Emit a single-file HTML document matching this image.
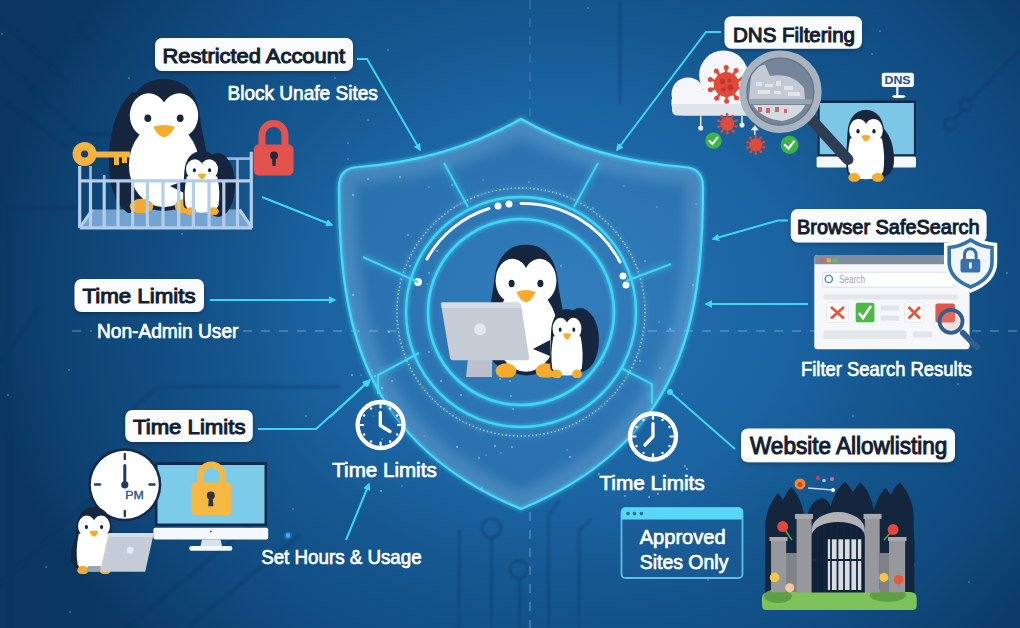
<!DOCTYPE html>
<html><head><meta charset="utf-8">
<style>
html,body{margin:0;padding:0;width:1020px;height:628px;overflow:hidden;background:#0f4478;}
svg{display:block}
text{font-family:"Liberation Sans",sans-serif;}
.lb{font-weight:normal;fill:#141e30;stroke:#141e30;stroke-width:1.05px;font-size:21px;}
.wt{fill:#ffffff;font-size:20px;stroke:#ffffff;stroke-width:0.7px;}
.cy{stroke:#3fd6f6;fill:none;}
</style></head><body>
<svg width="1020" height="628" viewBox="0 0 1020 628">
<defs>
  <radialGradient id="bg" cx="560" cy="300" r="580" gradientUnits="userSpaceOnUse" gradientTransform="translate(560 300) scale(1 0.85) translate(-560 -300)">
    <stop offset="0" stop-color="#2572b3"/>
    <stop offset="0.4" stop-color="#1b64a2"/>
    <stop offset="0.58" stop-color="#15578f"/>
    <stop offset="0.84" stop-color="#0f4a7e"/>
    <stop offset="0.95" stop-color="#0d4171"/>
    <stop offset="1" stop-color="#0b3b69"/>
  </radialGradient>
  <linearGradient id="leftdark" x1="0" y1="0" x2="1" y2="0">
    <stop offset="0" stop-color="#041830" stop-opacity="0.15"/>
    <stop offset="1" stop-color="#041830" stop-opacity="0"/>
  </linearGradient>
  <linearGradient id="shf" x1="0" y1="0" x2="0" y2="1">
    <stop offset="0" stop-color="#5aa8e0" stop-opacity="0.28"/>
    <stop offset="1" stop-color="#5aa8e0" stop-opacity="0.12"/>
  </linearGradient>
  <filter id="glow" x="-20%" y="-20%" width="140%" height="140%">
    <feGaussianBlur stdDeviation="3" result="b"/>
    <feMerge><feMergeNode in="b"/><feMergeNode in="SourceGraphic"/></feMerge>
  </filter>
  <filter id="shadow" x="-10%" y="-20%" width="120%" height="150%">
    <feDropShadow dx="0" dy="2" stdDeviation="2" flood-color="#000" flood-opacity="0.25"/>
  </filter>
  <marker id="arr" viewBox="0 0 10 10" refX="8" refY="5" markerWidth="3.8" markerHeight="3.8" orient="auto">
    <path d="M0 0 L10 5 L0 10 Z" fill="#3fd6f6"/>
  </marker>
  <!-- penguin symbol 100x120 -->
  <symbol id="peng" viewBox="0 0 100 140" preserveAspectRatio="none">
    <path d="M50 0 C74 0 88 16 90 40 C92 56 98 72 99 92 C100 118 92 134 50 138 C8 134 0 118 1 92 C2 72 8 56 10 40 C12 16 26 0 50 0 Z" fill="#16263f"/>
    <ellipse cx="33" cy="38" rx="21" ry="23" fill="#fff"/>
    <ellipse cx="67" cy="38" rx="21" ry="23" fill="#fff"/>
    <ellipse cx="50" cy="90" rx="39" ry="44" fill="#fff"/>
    <ellipse cx="32" cy="41" rx="3.8" ry="4" fill="#16263f"/>
    <ellipse cx="68" cy="41" rx="3.8" ry="4" fill="#16263f"/>
    <path d="M38 50 Q50 46 62 50 Q57 60 50 61 Q43 60 38 50 Z" fill="#f5ab2c"/>
    <ellipse cx="25" cy="133" rx="13" ry="8" fill="#f5ab2c"/>
    <ellipse cx="75" cy="133" rx="13" ry="8" fill="#f5ab2c"/>
  </symbol>
  <symbol id="peng2" viewBox="0 0 100 140" preserveAspectRatio="none">
    <path d="M50 0 C76 0 92 18 94 44 C96 70 98 100 96 120 C92 136 8 136 4 120 C2 100 4 70 6 44 C8 18 24 0 50 0 Z" fill="#16263f"/>
    <ellipse cx="32" cy="40" rx="22" ry="22" fill="#fff"/>
    <ellipse cx="68" cy="40" rx="22" ry="22" fill="#fff"/>
    <path d="M12 56 Q50 50 88 56 Q97 92 91 120 Q84 135 50 135 Q16 135 9 120 Q3 92 12 56 Z" fill="#fff"/>
    <ellipse cx="31" cy="42" rx="4" ry="4.4" fill="#16263f"/>
    <ellipse cx="69" cy="42" rx="4" ry="4.4" fill="#16263f"/>
    <path d="M39 51 Q50 47 61 51 Q56 61 50 62 Q44 61 39 51 Z" fill="#f5ab2c"/>
    <ellipse cx="22" cy="132" rx="14" ry="9" fill="#f5ab2c"/>
    <ellipse cx="78" cy="132" rx="14" ry="9" fill="#f5ab2c"/>
  </symbol>
</defs>

<!-- background -->
<rect width="1020" height="628" fill="url(#bg)"/>
<rect width="300" height="628" fill="url(#leftdark)"/>

<!-- background circuit traces -->
<filter id="soft"><feGaussianBlur stdDeviation="0.8"/></filter>
<g stroke="#0a3360" stroke-width="2.4" fill="none" opacity="0.4" filter="url(#soft)">
  <path d="M0 18 L71 85"/>
  <path d="M0 58 L80 134 L150 134"/>
  <path d="M0 98 L67 147"/>
  <circle cx="89" cy="29" r="9"/>
  <path d="M9 628 L9 209 L80 207"/>
  <path d="M0 585 L110 480"/>
  <path d="M127 628 L260 517"/>
  <path d="M187 628 L300 535"/>
  <path d="M158 387 L340 387"/><path d="M158 387 L124 416"/>
  <path d="M0 364 L40 306"/>
  <path d="M620 0 L620 105"/>
  <path d="M1020 49 L970 101"/><circle cx="966" cy="105" r="6"/><path d="M962 110 L954 119"/><circle cx="950" cy="124" r="6"/>
  <path d="M491.4 538.5 L491.4 628"/><circle cx="491.4" cy="528.5" r="9.5"/>
  <path d="M519.9 578 L519.9 628"/><circle cx="518.9" cy="569.3" r="9"/>
  <path d="M459 530 L459 628"/>
  <path d="M548.4 628 L548.4 515 L560 500"/>
  <path d="M579 628 L579 530 L591 520"/>
</g>
<!-- dashed guides -->
<g stroke="#8fb8de" stroke-width="2" stroke-dasharray="9 9" opacity="0.35" fill="none">
  <path d="M72 331 L92 331"/>
  <path d="M243 331 L396 331"/>
  <path d="M648 331 L1020 331"/>
  <path d="M530 512 L530 628"/>
</g>
<path d="M530 0 L530 118" stroke="#8fb8de" stroke-width="1.6" stroke-dasharray="9 9" opacity="0.22"/>

<!-- shield -->
<clipPath id="shclip"><path id="shp" d="M339 187 Q339 168 358 167 Q448 160 521 119 Q594 160 684 167 Q703 168 703 187 C703 325 680 443 521 509 C362 443 339 325 339 187 Z"/></clipPath>
<filter id="blur6" x="-20%" y="-20%" width="140%" height="140%"><feGaussianBlur stdDeviation="6"/></filter>
<filter id="glow2" x="-20%" y="-20%" width="140%" height="140%">
  <feGaussianBlur stdDeviation="2.2" result="b"/>
  <feMerge><feMergeNode in="b"/><feMergeNode in="SourceGraphic"/></feMerge>
</filter>
<path d="M339 187 Q339 168 358 167 Q448 160 521 119 Q594 160 684 167 Q703 168 703 187 C703 325 680 443 521 509 C362 443 339 325 339 187 Z" fill="#8cc8f5" fill-opacity="0.13"/>
<g clip-path="url(#shclip)">
  <path d="M339 187 Q339 168 358 167 Q448 160 521 119 Q594 160 684 167 Q703 168 703 187 C703 325 680 443 521 509 C362 443 339 325 339 187 Z" fill="none" stroke="#a8d8fa" stroke-opacity="0.22" stroke-width="34" filter="url(#blur6)"/>
</g>
<path d="M339 187 Q339 168 358 167 Q448 160 521 119 Q594 160 684 167 Q703 168 703 187 C703 325 680 443 521 509 C362 443 339 325 339 187 Z" fill="none" stroke="#4adcf8" stroke-width="2.2" filter="url(#glow2)"/>
<!-- sparkles -->
<g fill="#cfe8ff" opacity="0.55">
<circle cx="429" cy="352" r="0.9"/>
<circle cx="670" cy="329" r="1.1"/>
<circle cx="368" cy="179" r="0.9"/>
<circle cx="437" cy="251" r="1.1"/>
<circle cx="512" cy="447" r="0.9"/>
<circle cx="486" cy="455" r="0.7"/>
<circle cx="570" cy="457" r="1.1"/>
<circle cx="483" cy="180" r="0.7"/>
<circle cx="402" cy="486" r="0.7"/>
<circle cx="452" cy="185" r="0.9"/>
<circle cx="513" cy="409" r="0.9"/>
<circle cx="599" cy="474" r="0.9"/>
<circle cx="603" cy="362" r="0.7"/>
<circle cx="657" cy="207" r="0.7"/>
<circle cx="521" cy="259" r="1.1"/>
<circle cx="500" cy="379" r="0.9"/>
<circle cx="495" cy="446" r="1.1"/>
<circle cx="470" cy="365" r="1.1"/>
<circle cx="427" cy="284" r="0.7"/>
<circle cx="649" cy="497" r="1.1"/>
<circle cx="592" cy="402" r="0.9"/>
<circle cx="687" cy="469" r="1.1"/>
<circle cx="382" cy="388" r="1.1"/>
<circle cx="640" cy="361" r="0.9"/>
<circle cx="389" cy="332" r="1.1"/>
<circle cx="696" cy="204" r="0.7"/>
<circle cx="491" cy="224" r="0.9"/>
<circle cx="497" cy="310" r="0.7"/>
<circle cx="361" cy="375" r="0.7"/>
<circle cx="479" cy="366" r="1.1"/>
<circle cx="658" cy="494" r="1.1"/>
<circle cx="429" cy="187" r="0.7"/>
<circle cx="372" cy="370" r="0.7"/>
<circle cx="682" cy="491" r="0.9"/>
<circle cx="562" cy="226" r="0.7"/>
<circle cx="693" cy="285" r="0.9"/>
<circle cx="685" cy="466" r="0.9"/>
<circle cx="479" cy="458" r="0.9"/>
<circle cx="574" cy="369" r="1.1"/>
<circle cx="381" cy="491" r="1.1"/>
<circle cx="441" cy="381" r="1.1"/>
<circle cx="429" cy="273" r="0.9"/>
<circle cx="530" cy="353" r="0.7"/>
<circle cx="625" cy="496" r="0.9"/>
<circle cx="352" cy="375" r="1.1"/>
<circle cx="392" cy="381" r="0.9"/>
<circle cx="511" cy="396" r="0.9"/>
<circle cx="561" cy="266" r="0.9"/>
<circle cx="353" cy="195" r="1.1"/>
<circle cx="353" cy="295" r="1.1"/>
<circle cx="507" cy="368" r="0.9"/>
<circle cx="408" cy="235" r="0.9"/>
<circle cx="645" cy="261" r="0.9"/>
<circle cx="382" cy="439" r="1.1"/>
<circle cx="588" cy="218" r="1.1"/>
<circle cx="424" cy="436" r="0.7"/>
<circle cx="461" cy="395" r="1.1"/>
<circle cx="593" cy="208" r="0.9"/>
<circle cx="682" cy="394" r="0.7"/>
<circle cx="501" cy="453" r="0.7"/>
<circle cx="373" cy="416" r="0.7"/>
<circle cx="659" cy="322" r="0.7"/>
<circle cx="624" cy="186" r="0.7"/>
<circle cx="457" cy="447" r="1.1"/>
<circle cx="410" cy="266" r="1.1"/>
<circle cx="375" cy="376" r="1.1"/>
<circle cx="391" cy="270" r="0.9"/>
<circle cx="510" cy="381" r="0.9"/>
<circle cx="494" cy="308" r="0.9"/>
<circle cx="400" cy="177" r="1.1"/>
<circle cx="1007" cy="273" r="0.8"/>
<circle cx="969" cy="582" r="0.8"/>
<circle cx="227" cy="468" r="0.8"/>
<circle cx="853" cy="416" r="0.8"/>
<circle cx="529" cy="182" r="0.8"/>
<circle cx="348" cy="143" r="0.8"/>
<circle cx="69" cy="370" r="0.8"/>
<circle cx="293" cy="509" r="0.8"/>
<circle cx="46" cy="567" r="0.8"/>
<circle cx="708" cy="580" r="0.8"/>
<circle cx="914" cy="565" r="0.8"/>
<circle cx="588" cy="8" r="0.8"/>
<circle cx="760" cy="108" r="0.8"/>
<circle cx="306" cy="416" r="0.8"/>
<circle cx="535" cy="260" r="0.8"/>
<circle cx="958" cy="384" r="0.8"/>
<circle cx="348" cy="159" r="0.8"/>
<circle cx="879" cy="300" r="0.8"/>
<circle cx="798" cy="221" r="0.8"/>
<circle cx="201" cy="336" r="0.8"/>
<circle cx="833" cy="108" r="0.8"/>
<circle cx="808" cy="579" r="0.8"/>
<circle cx="822" cy="517" r="0.8"/>
<circle cx="8" cy="395" r="0.8"/>
<circle cx="880" cy="31" r="0.8"/>
<circle cx="277" cy="169" r="0.8"/>
<circle cx="538" cy="266" r="0.8"/>
<circle cx="482" cy="488" r="0.8"/>
<circle cx="2" cy="34" r="0.8"/>
<circle cx="129" cy="78" r="0.8"/>
<circle cx="70" cy="612" r="0.8"/>
<circle cx="872" cy="54" r="0.8"/>
<circle cx="512" cy="198" r="0.8"/>
<circle cx="321" cy="221" r="0.8"/>
<circle cx="660" cy="368" r="0.8"/>
<circle cx="368" cy="120" r="0.8"/>
<circle cx="335" cy="78" r="0.8"/>
<circle cx="567" cy="450" r="0.8"/>
<circle cx="388" cy="50" r="0.8"/>
<circle cx="182" cy="234" r="0.8"/>
</g>

<!-- rings -->
<g filter="url(#glow2)">
  <circle cx="521" cy="312" r="93" class="cy" stroke-width="2.6"/>
  <circle cx="521" cy="312" r="115" class="cy" stroke-width="2.4"/>
  <circle cx="521" cy="312" r="124" fill="none" stroke="#a8e8fb" stroke-width="1.4" stroke-dasharray="1.2 2.6"/>
</g>
<!-- white arcs and dots -->
<g stroke="#f2f6fa" stroke-width="3" fill="none" stroke-linecap="round">
  <path d="M427 259 A108 108 0 0 1 489 208.5"/>
  <path d="M521 203.5 A109 109 0 0 1 620 262"/>
</g>
<g fill="#ffffff">
  <circle cx="498" cy="206" r="3.5"/><circle cx="509" cy="204" r="3.5"/>
  <circle cx="623" cy="276" r="3.5"/><circle cx="626" cy="285" r="3.5"/>
  <circle cx="418" cy="282" r="4"/>
</g>
<!-- spokes -->
<g class="cy" stroke-width="2" filter="url(#glow)">
  <path d="M444 163 L468 207"/>
  <path d="M598 163 L574 207"/>
  <path d="M363 257 L418 282"/>
  <path d="M671 264 L626 281"/>
  <path d="M419 353 L378 375 L378 394"/>
  <path d="M621 368 L652 384 L652 404"/>
</g>

<!-- connectors -->
<g class="cy" stroke-width="2">
  <path d="M357 59 L367 59 L420 150" marker-end="url(#arr)"/>
  <path d="M262 197 L332 225" marker-end="url(#arr)"/>
  <path d="M210 300 L335 300" marker-end="url(#arr)"/>
  <path d="M258 429 L316 429 L369 381" marker-end="url(#arr)"/>
  <path d="M346 540 L369 484" marker-end="url(#arr)"/>
  <path d="M330 417 L370 380" marker-end="url(#arr)"/>
  <path d="M721 32 L706 32 L617 150" marker-end="url(#arr)"/>
  <path d="M788 220.5 L778 220.5 L713 239" marker-end="url(#arr)"/>
  <path d="M808 304 L706 304" marker-end="url(#arr)"/>
  <path d="M735 449 L670 392"/>
</g>
<g fill="#3fd6f6">
  <circle cx="670" cy="392" r="3"/>
</g>

<!-- labels -->
<g filter="url(#shadow)" fill="#f9fbfd">
  <rect x="155" y="38" width="198" height="33" rx="7"/>
  <rect x="74.5" y="279" width="129.5" height="33" rx="7"/>
  <rect x="125.3" y="410" width="127.5" height="32" rx="7"/>
  <rect x="724.5" y="16.3" width="137.5" height="32.4" rx="7"/>
  <rect x="790.8" y="209" width="195.8" height="33.5" rx="7"/>
  <rect x="741" y="428.5" width="214" height="33.7" rx="7"/>
</g>
<text class="lb" x="162.4" y="63.2" textLength="182.6" lengthAdjust="spacingAndGlyphs">Restricted Account</text>
<text class="lb" x="82.4" y="302.8" textLength="113.2" lengthAdjust="spacingAndGlyphs">Time Limits</text>
<text class="lb" x="133" y="433.6" textLength="112.5" lengthAdjust="spacingAndGlyphs">Time Limits</text>
<text class="lb" x="733" y="41.6" textLength="122" lengthAdjust="spacingAndGlyphs" style="font-size:20.5px">DNS Filtering</text>
<text class="lb" x="797" y="233.6" textLength="182.6" lengthAdjust="spacingAndGlyphs">Browser SafeSearch</text>
<text class="lb" x="750" y="454.4" textLength="197.4" lengthAdjust="spacingAndGlyphs" style="font-size:23px">Website Allowlisting</text>

<!-- white texts -->
<text class="wt" x="227.5" y="100" textLength="150.3" lengthAdjust="spacingAndGlyphs">Block Unafe Sites</text>
<text class="wt" x="97" y="337.7" textLength="141.4" lengthAdjust="spacingAndGlyphs">Non-Admin User</text>
<text class="wt" x="332.3" y="476.8" textLength="104.4" lengthAdjust="spacingAndGlyphs">Time Limits</text>
<text class="wt" x="261.2" y="564.4" textLength="160.4" lengthAdjust="spacingAndGlyphs">Set Hours &amp; Usage</text>
<text class="wt" x="801" y="376" textLength="171" lengthAdjust="spacingAndGlyphs">Filter Search Results</text>
<text class="wt" x="599.4" y="489.5" textLength="105.3" lengthAdjust="spacingAndGlyphs">Time Limits</text>

<!-- center clocks -->
<g><circle cx="380.6" cy="425" r="23" fill="#1a5a96" fill-opacity="0.35" stroke="#fff" stroke-width="4.3"/><path d="M380.6 407.5 L380.6 405.0" stroke="#fff" stroke-width="2.2" stroke-linecap="round"/><circle cx="390.1" cy="408.5" r="1.2" fill="#fff"/><circle cx="397.1" cy="415.5" r="1.2" fill="#fff"/><path d="M398.1 425.0 L400.6 425.0" stroke="#fff" stroke-width="2.2" stroke-linecap="round"/><circle cx="397.1" cy="434.5" r="1.2" fill="#fff"/><circle cx="390.1" cy="441.5" r="1.2" fill="#fff"/><path d="M380.6 442.5 L380.6 445.0" stroke="#fff" stroke-width="2.2" stroke-linecap="round"/><circle cx="371.1" cy="441.5" r="1.2" fill="#fff"/><circle cx="364.1" cy="434.5" r="1.2" fill="#fff"/><path d="M363.1 425.0 L360.6 425.0" stroke="#fff" stroke-width="2.2" stroke-linecap="round"/><circle cx="364.1" cy="415.5" r="1.2" fill="#fff"/><circle cx="371.1" cy="408.5" r="1.2" fill="#fff"/><path d="M380.3 412.5 L380.3 425.5 L390 431.5" stroke="#fff" stroke-width="3.3" fill="none" stroke-linecap="round" stroke-linejoin="round"/></g>
<g><circle cx="653" cy="436.5" r="23" fill="#1a5a96" fill-opacity="0.35" stroke="#fff" stroke-width="4.3"/><path d="M653.0 419.0 L653.0 416.5" stroke="#fff" stroke-width="2.2" stroke-linecap="round"/><circle cx="662.5" cy="420.0" r="1.2" fill="#fff"/><circle cx="669.5" cy="427.0" r="1.2" fill="#fff"/><path d="M670.5 436.5 L673.0 436.5" stroke="#fff" stroke-width="2.2" stroke-linecap="round"/><circle cx="669.5" cy="446.0" r="1.2" fill="#fff"/><circle cx="662.5" cy="453.0" r="1.2" fill="#fff"/><path d="M653.0 454.0 L653.0 456.5" stroke="#fff" stroke-width="2.2" stroke-linecap="round"/><circle cx="643.5" cy="453.0" r="1.2" fill="#fff"/><circle cx="636.5" cy="446.0" r="1.2" fill="#fff"/><path d="M635.5 436.5 L633.0 436.5" stroke="#fff" stroke-width="2.2" stroke-linecap="round"/><circle cx="636.5" cy="427.0" r="1.2" fill="#fff"/><circle cx="643.5" cy="420.0" r="1.2" fill="#fff"/><path d="M653 423.5 L653 436.5 L645 445" stroke="#fff" stroke-width="3.3" fill="none" stroke-linecap="round" stroke-linejoin="round"/></g>

<!-- TOP-LEFT: crib scene -->
<g id="crib">
  <!-- back bars of crib -->
  <g stroke="#9fbde3" stroke-width="2.6">
    <path d="M222 158.6 L252 158.6"/>
    <path d="M237.5 158 L237.5 181"/>
    <path d="M223.8 158 L223.8 181"/>
    <path d="M90.5 166 L90.5 181"/>
    <path d="M104.2 175 L104.2 181"/>
  </g>
  <!-- crib floor -->
  <path d="M92.5 209.6 L239.5 209.6 L252 227.8 L79.7 227.8 Z" fill="#86b3de" opacity="0.85"/>
  <!-- big penguin -->
  <ellipse cx="218" cy="185" rx="17" ry="32" fill="#16263f"/>
  <path d="M132 92 Q111 112 109 155 Q108 200 128 213 L150 213 L150 95 Z" fill="#16263f"/>
  <use href="#peng" x="119" y="79" width="90" height="134"/>
  <!-- key -->
  <g fill="#f2b43e">
    <circle cx="84.6" cy="154" r="12"/>
    <rect x="94" y="151.5" width="36" height="6"/>
    <rect x="114" y="155" width="5" height="10"/>
    <rect x="122" y="155" width="5" height="8"/>
  </g>
  <circle cx="84.6" cy="154" r="3.6" fill="#16406e"/>
  <!-- little penguin -->
  <path d="M170 186 L186 180 L186 194 Z" fill="#16263f"/>
  <use href="#peng2" x="182" y="151" width="40" height="64"/>
  <!-- front bars -->
  <g stroke="#b3cdea" stroke-width="3.2">
    <path d="M79.7 180.8 L252 180.8"/>
    <path d="M79.7 227.8 L252 227.8"/>
    <path d="M79.7 166 L79.7 228"/>
    <path d="M251.3 151.8 L251.3 228"/>
    <path d="M90.5 181 L90.5 228"/><path d="M104.2 181 L104.2 228"/><path d="M118 181 L118 228"/>
    <path d="M132.6 181 L132.6 228"/><path d="M147.4 181 L147.4 228"/><path d="M163 181 L163 228"/>
    <path d="M178.7 181 L178.7 228"/><path d="M193.4 181 L193.4 228"/><path d="M209 181 L209 228"/>
    <path d="M223.8 181 L223.8 228"/><path d="M237.5 181 L237.5 228"/>
    <path d="M79.7 227.8 L92.5 209.6"/><path d="M252 227.8 L239.5 209.6"/>
  </g>
  <!-- red lock -->
  <path d="M262 146 L262 135 A11.5 11.5 0 0 1 285 135 L285 146" fill="none" stroke="#e3534e" stroke-width="7"/>
  <rect x="253.7" y="144.5" width="39.8" height="31" rx="5" fill="#e3534e"/>
  <circle cx="274" cy="155.5" r="4" fill="#27283a"/>
  <path d="M272 157 L276 157 L275.5 166 L272.5 166 Z" fill="#27283a"/>
</g>

<!-- BOTTOM-LEFT: clock / monitor / penguin -->
<g id="bl">
  <!-- monitor -->
  <rect x="155" y="462" width="112" height="64" fill="#13294a"/>
  <rect x="157.5" y="465" width="107" height="58.5" fill="#7ccbe8"/>
  <rect x="153.4" y="527.8" width="114.8" height="11.8" rx="2" fill="#f4f7fb"/>
  <circle cx="210.8" cy="531.5" r="0.9" fill="#555"/>
  <path d="M202 539.6 L220.5 539.6 L222 546 L200.5 546 Z" fill="#d9e1ea"/>
  <rect x="189.3" y="546" width="43" height="4.8" rx="2" fill="#f4f7fb"/>
  <!-- gold lock -->
  <path d="M200.2 483 L200.2 475 A11.2 11.2 0 0 1 222.5 475 L222.5 483" fill="none" stroke="#f5b943" stroke-width="6.5"/>
  <rect x="191.5" y="482.6" width="39.7" height="32.3" rx="4" fill="#f5b943"/>
  <circle cx="210.8" cy="495.5" r="4" fill="#2d3340"/>
  <path d="M209 497 L212.6 497 L213.4 506.3 L208.2 506.3 Z" fill="#2d3340"/>
  <!-- clock -->
  <circle cx="124.8" cy="484.8" r="36.5" fill="#15294a"/>
  <circle cx="124.8" cy="484.8" r="34" fill="#ffffff"/>
  <g stroke="#20406a" stroke-width="2.4" stroke-linecap="round">
    <path d="M124.8 454 L124.8 459"/><path d="M124.8 511 L124.8 516"/>
    <path d="M95 484.5 L100 484.5"/><path d="M149.5 484.5 L154.5 484.5"/>
  </g>
  <path d="M124.8 465.5 L124.8 484.8" stroke="#1d3a60" stroke-width="3" stroke-linecap="round"/>
  <circle cx="124.8" cy="484.8" r="3.6" fill="#1d3a60"/>
  <text x="125.3" y="498.5" font-size="11.5" fill="#2a5a8c" stroke="#2a5a8c" stroke-width="0.4" textLength="18.5" lengthAdjust="spacingAndGlyphs">PM</text>
  <!-- penguin with laptop -->
  <path d="M84 528 Q70 540 71 560 Q74 570 86 570 L90 530 Z" fill="#16263f"/><use href="#peng2" x="74" y="507" width="40" height="67"/>
  <path d="M108.7 533 L153.8 533 L145.2 571.8 L100 571.8 Z" fill="#c4ccd7"/>
  <path d="M108.7 533 L153.8 533 L153 537 L107.8 537 Z" fill="#d6dce4"/>
  <circle cx="130.2" cy="550.3" r="3.5" fill="#e6eaf0"/>
  <path d="M88 566 L101 566 L100 571.8 L86 571.8 Z" fill="#9aa4b2"/>
</g>

<!-- CENTER: penguins + monitor -->
<g id="ctr">
  <ellipse cx="580" cy="340" rx="19" ry="32" fill="#16263f"/>
  <use href="#peng" x="486" y="244.5" width="80" height="133"/>
  <!-- monitor -->
  <path d="M469.4 345 L492 345 L492 377 L466 377 Z" fill="#b9c0cb"/>
  <path d="M441 304 Q440 302.5 442 302.5 L518 302.5 Q520.5 302.5 521 305 L529 357 Q529.5 360.3 526.5 360.3 L453 360.3 Q450.5 360.3 450 358 Z" fill="#c6ccd6"/>
  <path d="M442 302.5 L518 302.5 Q520.5 302.5 521 305 L521.5 308 L441.5 308 Z" fill="#d7dce4"/>
  <circle cx="480" cy="329.3" r="6" fill="#e4e8ee"/>
  <!-- small penguin -->
  <path d="M533 349 L550 340 L550 356 Z" fill="#16263f"/>
  <use href="#peng2" x="549" y="309" width="36" height="69"/>
</g>

<!-- TOP-RIGHT: DNS filtering -->
<g id="dns">
  <!-- cloud -->
  <g fill="#f4f6f9">
    <circle cx="723.6" cy="75" r="24.5"/>
    <circle cx="688" cy="94" r="16.5"/>
    <circle cx="748" cy="92" r="18"/>
    <rect x="671.4" y="90" width="95" height="25.5" rx="12"/>
  </g>
  <path d="M672 104 L766 104 L766 110 Q766 115.5 760 115.5 L678 115.5 Q672 115.5 672 110 Z" fill="#dfe4ea"/>
  <g fill="#e04a3a" stroke="#e04a3a"><path d="M737.1 87.7 L742.5 89.4" stroke-width="2.5" fill="none"/><circle cx="742.5" cy="89.4" r="2.5" stroke="none"/><path d="M733.1 93.4 L736.5 97.9" stroke-width="2.5" fill="none"/><circle cx="736.5" cy="97.9" r="2.5" stroke="none"/><path d="M726.6 95.6 L726.6 101.3" stroke-width="2.5" fill="none"/><circle cx="726.6" cy="101.3" r="2.5" stroke="none"/><path d="M719.9 93.6 L716.7 98.2" stroke-width="2.5" fill="none"/><circle cx="716.7" cy="98.2" r="2.5" stroke="none"/><path d="M715.8 88.0 L710.4 89.8" stroke-width="2.5" fill="none"/><circle cx="710.4" cy="89.8" r="2.5" stroke="none"/><path d="M715.7 81.1 L710.3 79.4" stroke-width="2.5" fill="none"/><circle cx="710.3" cy="79.4" r="2.5" stroke="none"/><path d="M719.7 75.4 L716.3 70.9" stroke-width="2.5" fill="none"/><circle cx="716.3" cy="70.9" r="2.5" stroke="none"/><path d="M726.2 73.2 L726.2 67.5" stroke-width="2.5" fill="none"/><circle cx="726.2" cy="67.5" r="2.5" stroke="none"/><path d="M732.9 75.2 L736.1 70.6" stroke-width="2.5" fill="none"/><circle cx="736.1" cy="70.6" r="2.5" stroke="none"/><path d="M737.0 80.8 L742.4 79.0" stroke-width="2.5" fill="none"/><circle cx="742.4" cy="79.0" r="2.5" stroke="none"/><circle cx="726.4" cy="84.4" r="12.5" stroke="none"/></g><circle cx="722.4" cy="81.4" r="2.6" fill="#b8302a" opacity="0.8"/><circle cx="729.4" cy="80.4" r="2.2" fill="#b8302a" opacity="0.8"/><circle cx="730.4" cy="87.4" r="2.8" fill="#b8302a" opacity="0.8"/><circle cx="723.4" cy="89.4" r="2.2" fill="#b8302a" opacity="0.8"/>
  <!-- arrows under cloud -->
  <g stroke="#e8eef5" stroke-width="1.5" fill="#e8eef5">
    <path d="M700.7 116 L700.7 127"/><circle cx="700.7" cy="128" r="1.8"/>
    <path d="M742 116 L742 124"/><circle cx="742" cy="125" r="1.8"/>
    <path d="M754.8 134.8 L754.8 127.5"/><path d="M752.3 129.5 L754.8 126.5 L757.3 129.5 Z"/>
  </g>
  <g fill="#e04a3a" stroke="#e04a3a"><path d="M733.3 125.7 L736.3 126.6" stroke-width="1.4" fill="none"/><circle cx="736.3" cy="126.6" r="1.4" stroke="none"/><path d="M731.1 128.8 L733.0 131.4" stroke-width="1.4" fill="none"/><circle cx="733.0" cy="131.4" r="1.4" stroke="none"/><path d="M727.4 130.1 L727.4 133.2" stroke-width="1.4" fill="none"/><circle cx="727.4" cy="133.2" r="1.4" stroke="none"/><path d="M723.7 128.9 L721.9 131.5" stroke-width="1.4" fill="none"/><circle cx="721.9" cy="131.5" r="1.4" stroke="none"/><path d="M721.3 125.8 L718.4 126.8" stroke-width="1.4" fill="none"/><circle cx="718.4" cy="126.8" r="1.4" stroke="none"/><path d="M721.3 121.9 L718.3 121.0" stroke-width="1.4" fill="none"/><circle cx="718.3" cy="121.0" r="1.4" stroke="none"/><path d="M723.5 118.8 L721.6 116.2" stroke-width="1.4" fill="none"/><circle cx="721.6" cy="116.2" r="1.4" stroke="none"/><path d="M727.2 117.5 L727.2 114.4" stroke-width="1.4" fill="none"/><circle cx="727.2" cy="114.4" r="1.4" stroke="none"/><path d="M730.9 118.7 L732.7 116.1" stroke-width="1.4" fill="none"/><circle cx="732.7" cy="116.1" r="1.4" stroke="none"/><path d="M733.3 121.8 L736.2 120.8" stroke-width="1.4" fill="none"/><circle cx="736.2" cy="120.8" r="1.4" stroke="none"/><circle cx="727.3" cy="123.8" r="7" stroke="none"/></g>
  <g fill="#e04a3a" stroke="#e04a3a"><path d="M761.3 146.5 L764.1 147.4" stroke-width="1.3" fill="none"/><circle cx="764.1" cy="147.4" r="1.3" stroke="none"/><path d="M759.2 149.5 L761.0 151.8" stroke-width="1.3" fill="none"/><circle cx="761.0" cy="151.8" r="1.3" stroke="none"/><path d="M755.8 150.6 L755.8 153.6" stroke-width="1.3" fill="none"/><circle cx="755.8" cy="153.6" r="1.3" stroke="none"/><path d="M752.3 149.6 L750.6 152.0" stroke-width="1.3" fill="none"/><circle cx="750.6" cy="152.0" r="1.3" stroke="none"/><path d="M750.2 146.7 L747.4 147.6" stroke-width="1.3" fill="none"/><circle cx="747.4" cy="147.6" r="1.3" stroke="none"/><path d="M750.1 143.1 L747.3 142.2" stroke-width="1.3" fill="none"/><circle cx="747.3" cy="142.2" r="1.3" stroke="none"/><path d="M752.2 140.1 L750.4 137.8" stroke-width="1.3" fill="none"/><circle cx="750.4" cy="137.8" r="1.3" stroke="none"/><path d="M755.6 139.0 L755.6 136.0" stroke-width="1.3" fill="none"/><circle cx="755.6" cy="136.0" r="1.3" stroke="none"/><path d="M759.1 140.0 L760.8 137.6" stroke-width="1.3" fill="none"/><circle cx="760.8" cy="137.6" r="1.3" stroke="none"/><path d="M761.2 142.9 L764.0 142.0" stroke-width="1.3" fill="none"/><circle cx="764.0" cy="142.0" r="1.3" stroke="none"/><circle cx="755.7" cy="144.8" r="6.5" stroke="none"/></g>
  <circle cx="713.5" cy="140.6" r="8.2" fill="#3cb44b"/>
  <path d="M709.5 141 L712.5 144 L717.5 137.5" stroke="#fff" stroke-width="2" fill="none" stroke-linecap="round"/>
  <circle cx="789.6" cy="144.8" r="9" fill="#3cb44b"/>
  <path d="M785 145 L788.5 148.5 L794 141.5" stroke="#fff" stroke-width="2.2" fill="none" stroke-linecap="round"/>
  <!-- monitor -->
  <rect x="817.6" y="100.4" width="98.4" height="57" fill="#13294a"/>
  <rect x="819.7" y="103" width="94.2" height="51.2" fill="#7cc7e6"/>
  <rect x="816.6" y="156.5" width="99.4" height="11" rx="1.5" fill="#f4f7fb"/>
  <!-- DNS sign -->
  <rect x="881.8" y="72.8" width="32.1" height="14.2" rx="2" fill="#f6f8fb"/>
  <text x="884.5" y="84.2" font-size="11" font-weight="bold" fill="#1f4f86" textLength="26" lengthAdjust="spacingAndGlyphs">DNS</text>
  <path d="M897.3 87 L897.3 95.5" stroke="#f6f8fb" stroke-width="2.2"/>
  <ellipse cx="898.8" cy="96.5" rx="6.8" ry="1.6" fill="#f6f8fb"/>
  <!-- penguin -->
  <path d="M872 120 Q894 130 894 160 Q894 176 880 178 L860 178 Z" fill="#16263f"/>
  <use href="#peng2" x="845" y="109.7" width="42" height="72"/>
  <!-- magnifier -->
  <path d="M810 118 L848 159.5" stroke="#2f3d52" stroke-width="11" stroke-linecap="round"/>
  <circle cx="780.4" cy="91.7" r="37.5" fill="#75859a"/>
  <path d="M749 99.5 L751 76 Q755 66 765 64.7 L770 76 Q792 72 804 88 L805 99.5 Z" fill="#c3cad3"/>
  <g fill="#e8ecf0" opacity="0.8">
    <rect x="756" y="82" width="6" height="4"/><rect x="765" y="84" width="8" height="3"/><rect x="776" y="81" width="5" height="5"/>
    <rect x="784" y="86" width="9" height="4"/><rect x="758" y="90" width="12" height="4"/><rect x="774" y="91" width="7" height="3"/><rect x="788" y="92" width="12" height="4"/>
  </g>
  <rect x="746" y="99.5" width="66" height="4.5" fill="#9aa5b2"/>
  <path d="M753 105 L805 105 Q800 117 782 121 Q762 119 753 105 Z" fill="#d5dae0"/>
  <g fill="#c8545a" opacity="0.85"><rect x="758" y="107" width="4" height="5"/><rect x="766" y="108" width="4" height="5"/><rect x="775" y="107" width="4" height="5"/><rect x="784" y="109" width="3" height="4"/></g>
  <circle cx="780.4" cy="91.7" r="37.5" fill="none" stroke="#a9b4c1" stroke-width="7.5"/>
  <circle cx="780.4" cy="91.7" r="33.5" fill="none" stroke="#66758a" stroke-width="1.2"/>
</g>

<!-- RIGHT: Browser SafeSearch -->
<g id="browser">
  <rect x="814.3" y="255" width="155.3" height="94.2" rx="3" fill="#f5f7fa"/>
  <path d="M814.3 258 Q814.3 255 817.3 255 L966.6 255 Q969.6 255 969.6 258 L969.6 264.3 L814.3 264.3 Z" fill="#7f8fa0"/>
  <circle cx="822.6" cy="260.2" r="2.2" fill="#e8604c"/>
  <circle cx="828.8" cy="260.2" r="2.2" fill="#f0a840"/>
  <circle cx="835" cy="260.2" r="2.2" fill="#62c45a"/>
  <rect x="822.6" y="272.2" width="132.4" height="14.9" rx="3" fill="#ffffff" stroke="#d9dee5" stroke-width="1"/>
  <circle cx="828.8" cy="279" r="3.6" fill="none" stroke="#3b8ad0" stroke-width="1.4"/>
  <text x="839" y="283.3" font-size="10" fill="#9aa3ae" textLength="26" lengthAdjust="spacingAndGlyphs">Search</text>
  <rect x="823.6" y="294.4" width="134.6" height="5.1" rx="2" fill="#e3e6ea"/>
  <rect x="826.7" y="302.6" width="21.8" height="20" rx="2" fill="#fbfbfc" stroke="#e3e6ea" stroke-width="0.8"/>
  <path d="M831 307 L844 318.5 M844 307 L831 318.5" stroke="#e05a3a" stroke-width="2.8"/>
  <rect x="855.7" y="302.8" width="18.7" height="19.5" rx="2" fill="#4cb848"/>
  <path d="M859 313 L863 318 L871 306" stroke="#fff" stroke-width="2.6" fill="none"/>
  <rect x="880.6" y="305.4" width="18.6" height="5" rx="1" fill="#e1e4e8"/>
  <rect x="880.6" y="315.8" width="18.6" height="5" rx="1" fill="#e1e4e8"/>
  <rect x="904.4" y="302.6" width="19.6" height="20" rx="2" fill="#fbfbfc" stroke="#e3e6ea" stroke-width="0.8"/>
  <path d="M908.5 307 L920 318.5 M920 307 L908.5 318.5" stroke="#e05a3a" stroke-width="2.8"/>
  <rect x="935.4" y="303.5" width="19.6" height="19" rx="2" fill="#e0584a"/>
  <rect x="823.6" y="330.6" width="82.8" height="8.3" rx="2" fill="#e3e6ea"/>
  <rect x="912.7" y="331.5" width="19.6" height="6" rx="2" fill="#e3e6ea"/>
  <!-- magnifier -->
  <path d="M963 333 L976.8 347" stroke="#2f5f8f" stroke-width="6" stroke-linecap="round"/>
  <circle cx="951" cy="321.3" r="11.5" fill="#f0a090" fill-opacity="0.25" stroke="#2f5f8f" stroke-width="3.8"/>
  <!-- shield badge -->
  <path d="M970.6 236 Q983 244 995.5 244.5 L995.5 262 Q995.5 281 970.6 291 Q945.7 281 945.7 262 L945.7 244.5 Q958 244 970.6 236 Z" fill="#f2f6fa" stroke="#ffffff" stroke-width="3.5"/>
  <path d="M970.6 240 Q981.5 247 992 247.5 L992 262 Q992 278.5 970.6 287 Q949.2 278.5 949.2 262 L949.2 247.5 Q959.7 247 970.6 240 Z" fill="#f2f6fa" stroke="#3372aa" stroke-width="3.6"/>
  <path d="M964.5 259.5 L964.5 254.5 A5.8 5.8 0 0 1 976.1 254.5 L976.1 259.5" fill="none" stroke="#3372aa" stroke-width="3"/>
  <rect x="960.5" y="259" width="19.8" height="13.6" rx="2" fill="#3372aa"/>
  <rect x="969" y="262.5" width="2.8" height="6" fill="#f2f6fa"/>
</g>
<!-- BOTTOM-RIGHT: gate -->
<g id="gate">
  <g id="trees">
<path d="M766 600 L766 540 Q766 522 776 515 L904 515 Q914.5 522 914.5 545 L914.5 600 Z" fill="#14263e"/>
<path d="M778.0 493.5 C782.5 497.5 791.0 511.5 791.0 527.5 L791.0 600 L765.0 600 L765.0 527.5 C765.0 511.5 773.5 497.5 778.0 493.5 Z" fill="#14263e"/>
<path d="M791.4 487.0 C795.9 491.0 804.4 505.0 804.4 521.0 L804.4 600 L778.4 600 L778.4 521.0 C778.4 505.0 786.9 491.0 791.4 487.0 Z" fill="#14263e"/>
<path d="M844.7 481.8 C850.0 485.8 859.7 499.8 859.7 515.8 L859.7 600 L829.7 600 L829.7 515.8 C829.7 499.8 839.5 485.8 844.7 481.8 Z" fill="#14263e"/>
<path d="M860.4 482.5 C865.3 486.5 874.4 500.5 874.4 516.5 L874.4 600 L846.4 600 L846.4 516.5 C846.4 500.5 855.5 486.5 860.4 482.5 Z" fill="#14263e"/>
<path d="M885.5 488.0 C890.0 492.0 898.5 506.0 898.5 522.0 L898.5 600 L872.5 600 L872.5 522.0 C872.5 506.0 881.0 492.0 885.5 488.0 Z" fill="#14263e"/>
<path d="M899.6 482.5 C904.5 486.5 913.6 500.5 913.6 516.5 L913.6 600 L885.6 600 L885.6 516.5 C885.6 500.5 894.7 486.5 899.6 482.5 Z" fill="#14263e"/>
<path d="M806 520 Q810 500 822 498 Q832 500 834 520 Z" fill="#14263e"/>
</g>
  <!-- grass -->
  <path d="M762 598 Q762 592 770 592 L910 592 Q916.7 592 916.7 598 L916.7 606 Q916.7 610 912 610 L766 610 Q762 610 762 606 Z" fill="#7dc25a"/>
  <ellipse cx="778" cy="596" rx="14" ry="7" fill="#5e9f45"/>
  <ellipse cx="888" cy="595" rx="18" ry="7" fill="#5e9f45"/>
  <!-- walls -->
  <rect x="786" y="553" width="11" height="39" fill="#808286"/>
  <rect x="879.7" y="553" width="10" height="39" fill="#808286"/>
  <rect x="771" y="539.3" width="15.2" height="53" fill="#97989b"/>
  <rect x="769.5" y="537" width="18" height="4" fill="#a8a9ac"/>
  <rect x="889" y="539.3" width="16.2" height="53" fill="#97989b"/>
  <rect x="888" y="537" width="18.5" height="4" fill="#a8a9ac"/>
  <!-- gate interior -->
  <path d="M811.6 592.4 L811.6 535 A26.6 20 0 0 1 864.8 535 L864.8 592.4 Z" fill="#0f2138"/>
  <rect x="827.8" y="539.3" width="33.5" height="50.7" fill="#d9dde2"/>
  <g stroke="#14263e" stroke-width="1.8">
    <path d="M818 528 L818 592"/><path d="M824.5 526 L824.5 592"/><path d="M831 524 L831 592"/>
    <path d="M837.5 523 L837.5 592"/><path d="M844 523 L844 592"/><path d="M850.5 524 L850.5 592"/>
    <path d="M857 526 L857 592"/>
    <path d="M812 560 L865 560"/>
  </g>
  <!-- pillars + arch -->
  <path d="M796.6 592.4 L796.6 517 L811.6 517 L811.6 535 A26.6 20 0 0 1 864.8 535 L864.8 517 L879.7 517 L879.7 592.4 L864.8 592.4 L864.8 536 A26.6 22 0 0 0 811.6 536 L811.6 592.4 Z" fill="#97989b"/>
  <path d="M811.6 530 A26.6 18 0 0 1 864.8 530 L864.8 536 A26.6 14 0 0 0 811.6 536 Z" fill="#b0b2b5"/>
  <rect x="795" y="513.9" width="18" height="5" fill="#a8a9ac"/>
  <rect x="863.5" y="513.9" width="18" height="5" fill="#a8a9ac"/>
  <!-- flowers -->
  <path d="M783 527 L792 540" stroke="#5ea548" stroke-width="1.5"/>
  <path d="M893 530 L884 540" stroke="#5ea548" stroke-width="1.5"/>
  <circle cx="782.7" cy="526.6" r="5.5" fill="#e2483a"/>
  <circle cx="893.1" cy="529.6" r="5.5" fill="#e2483a"/>
  <circle cx="774.6" cy="577.4" r="4.8" fill="#f2c84a"/>
  <circle cx="789.7" cy="587.8" r="4.6" fill="#f4c7a0"/>
  <circle cx="883.9" cy="577.4" r="4.5" fill="#f2c84a"/>
  <circle cx="898.7" cy="579.7" r="4.8" fill="#e8583a"/>
  <circle cx="800" cy="483.9" r="5.5" fill="#f08a2a"/>
  <circle cx="800" cy="484.5" r="2.5" fill="#e23a30"/>
  <path d="M808 488 L833 490" stroke="#c9d8ea" stroke-width="1.4"/>
  <circle cx="833" cy="490" r="2" fill="#fff"/>
  <circle cx="818" cy="478" r="2" fill="#e23a4a"/>
  <circle cx="824" cy="480.5" r="1.8" fill="#8fd0f0"/>
  <circle cx="832" cy="479" r="2" fill="#d06a9a"/>
</g>

<!-- Approved Sites Only -->
<g id="approved">
  <rect x="621.5" y="508" width="121" height="70" rx="4" fill="#1d5c98" fill-opacity="0.55" stroke="#58bfe8" stroke-width="1.8"/>
  <path d="M621.5 512 Q621.5 508 625.5 508 L738.5 508 Q742.5 508 742.5 512 L742.5 519.5 L621.5 519.5 Z" fill="#58d8f4"/>
  <circle cx="628" cy="513.6" r="1.8" fill="#2d6a9c"/><circle cx="634.5" cy="513.6" r="1.8" fill="#2d6a9c"/><circle cx="641.5" cy="513.6" r="1.8" fill="#2d6a9c"/>
  <text class="wt" x="639.7" y="544.4" textLength="86" lengthAdjust="spacingAndGlyphs" style="font-size:21px">Approved</text>
  <text class="wt" x="639.7" y="569" textLength="88.7" lengthAdjust="spacingAndGlyphs" style="font-size:21px">Sites Only</text>
</g>

<circle cx="288" cy="535.5" r="4" fill="#3a9ef0" opacity="0.35"/><circle cx="288" cy="535.5" r="2.2" fill="#4aaaf5"/>
<!-- ILLUSTRATIONS PLACEHOLDER -->

</svg>
</body></html>
